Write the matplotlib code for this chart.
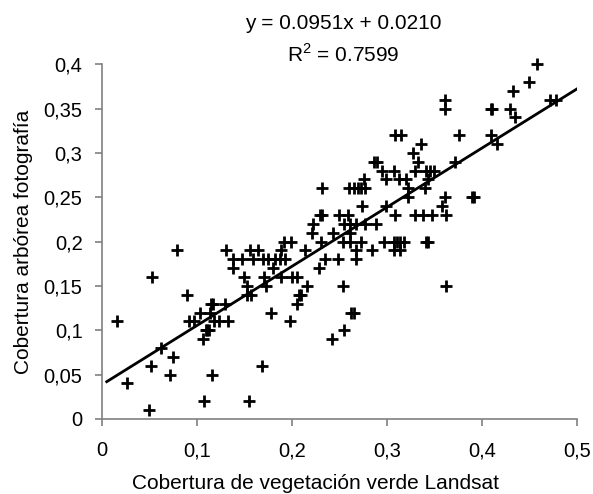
import numpy as np
import matplotlib.pyplot as plt

plt.rcParams['font.family'] = ['Liberation Sans', 'DejaVu Sans']
plt.rcParams['mathtext.fontset'] = 'custom'
plt.rcParams['mathtext.rm'] = 'Liberation Sans'

# Landsat green vegetation cover (x) vs photo tree cover (y)
veg_x = [0.458, 0.450, 0.433, 0.361, 0.472, 0.478,
         0.361, 0.410, 0.411, 0.430, 0.435,
         0.308, 0.315, 0.376, 0.409, 0.336, 0.416, 0.327,
         0.286, 0.289, 0.333, 0.372,
         0.295, 0.307, 0.330, 0.341, 0.345, 0.350,
         0.276, 0.299, 0.313, 0.320, 0.343,
         0.232, 0.260, 0.265, 0.269, 0.273, 0.277, 0.322, 0.340,
         0.322, 0.361, 0.390, 0.392,
         0.274, 0.299, 0.358,
         0.230, 0.232, 0.250, 0.259, 0.308, 0.330, 0.338, 0.347, 0.362,
         0.222, 0.255, 0.261, 0.267, 0.277, 0.288,
         0.221, 0.243, 0.261,
         0.192, 0.199, 0.231, 0.254, 0.261, 0.273, 0.297, 0.307, 0.311,
         0.314, 0.318, 0.341, 0.343,
         0.079, 0.131, 0.156, 0.164, 0.188, 0.214, 0.267, 0.284, 0.307, 0.314,
         0.138, 0.147, 0.159, 0.170, 0.175, 0.182, 0.187, 0.193, 0.235,
         0.248, 0.267,
         0.138, 0.180, 0.228,
         0.053, 0.150, 0.171, 0.188, 0.200, 0.205,
         0.153, 0.173, 0.216, 0.254, 0.362,
         0.090, 0.153, 0.157, 0.207, 0.209,
         0.115, 0.117, 0.130, 0.205,
         0.103, 0.114, 0.178, 0.262, 0.265,
         0.016, 0.092, 0.097, 0.118, 0.123, 0.133, 0.198,
         0.109, 0.111, 0.113, 0.255,
         0.106, 0.242, 0.062, 0.075, 0.052, 0.168, 0.072, 0.116,
         0.026, 0.107, 0.155, 0.050]
tree_y = [0.40, 0.38, 0.37, 0.36, 0.36, 0.36,
          0.35, 0.35, 0.35, 0.35, 0.34,
          0.32, 0.32, 0.32, 0.32, 0.31, 0.31, 0.30,
          0.29, 0.29, 0.29, 0.29,
          0.28, 0.28, 0.28, 0.28, 0.28, 0.28,
          0.27, 0.27, 0.27, 0.27, 0.27,
          0.26, 0.26, 0.26, 0.26, 0.26, 0.26, 0.26, 0.26,
          0.25, 0.25, 0.25, 0.25,
          0.24, 0.24, 0.24,
          0.23, 0.23, 0.23, 0.23, 0.23, 0.23, 0.23, 0.23, 0.23,
          0.22, 0.22, 0.22, 0.22, 0.22, 0.22,
          0.21, 0.21, 0.21,
          0.20, 0.20, 0.20, 0.20, 0.20, 0.20, 0.20, 0.20, 0.20,
          0.20, 0.20, 0.20, 0.20,
          0.19, 0.19, 0.19, 0.19, 0.19, 0.19, 0.19, 0.19, 0.19, 0.19,
          0.18, 0.18, 0.18, 0.18, 0.18, 0.18, 0.18, 0.18, 0.18,
          0.18, 0.18,
          0.17, 0.17, 0.17,
          0.16, 0.16, 0.16, 0.16, 0.16, 0.16,
          0.15, 0.15, 0.15, 0.15, 0.15,
          0.14, 0.14, 0.14, 0.14, 0.14,
          0.13, 0.13, 0.13, 0.13,
          0.12, 0.12, 0.12, 0.12, 0.12,
          0.11, 0.11, 0.11, 0.11, 0.11, 0.11, 0.11,
          0.10, 0.10, 0.10, 0.10,
          0.09, 0.09, 0.08, 0.07, 0.06, 0.06, 0.05, 0.05,
          0.04, 0.02, 0.02, 0.01]

x_ticks = [0, 0.1, 0.2, 0.3, 0.4, 0.5]
x_labels = ['0', '0,1', '0,2', '0,3', '0,4', '0,5']
y_ticks = [0, 0.05, 0.1, 0.15, 0.2, 0.25, 0.3, 0.35, 0.4]
y_labels = ['0', '0,05', '0,1', '0,15', '0,2', '0,25', '0,3', '0,35', '0,4']

x = np.array(veg_x)
y = np.array(tree_y)
slope, intercept = np.polyfit(x, y, 1)

fig = plt.figure(figsize=(5.93, 4.94), dpi=100)
ax = fig.add_axes([0.172, 0.152, 0.801, 0.718])

ax.plot(x, y, '+', color='black', markersize=8, markeredgewidth=2, clip_on=False)
xl = np.array([0.005, 0.5])
ax.plot(xl, slope * xl + intercept, color='black', linewidth=2)

ax.set_xlim(0, 0.5)
ax.set_ylim(0, 0.4)
ax.set_xticks(x_ticks)
ax.set_xticklabels(x_labels)
ax.set_yticks(y_ticks)
ax.set_yticklabels(y_labels)
for s in ['top', 'right']:
    ax.spines[s].set_visible(False)
for s in ['left', 'bottom']:
    ax.spines[s].set_color('#808080')
    ax.spines[s].set_linewidth(1.2)
ax.tick_params(direction='out', length=5, width=1.2, color='#808080',
               labelsize=14.5, labelcolor='black')
ax.tick_params(axis='x', pad=11)
ax.tick_params(axis='y', pad=9)

ax.set_xlabel('Cobertura de vegetación verde Landsat', fontsize=15, va='top')
ax.xaxis.set_label_coords(0.45, -0.155)
ax.set_ylabel('Cobertura arbórea fotografía', fontsize=15)
ax.yaxis.set_label_coords(-0.145, 0.5)

fig.text(0.579, 0.953, 'y = 0.0951x + 0.0210', ha='center', va='center', fontsize=15)
fig.text(0.579, 0.889, 'R$^2$ = 0.7599', ha='center', va='center', fontsize=15)

fig.savefig('out.png', dpi=100)
